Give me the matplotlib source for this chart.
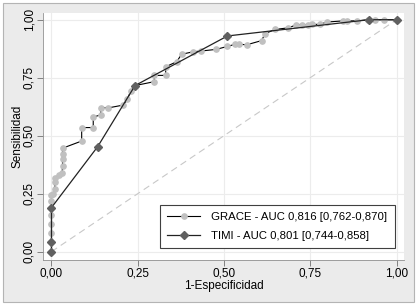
import matplotlib
matplotlib.use("Agg")
import matplotlib.pyplot as plt
from matplotlib.patches import Rectangle

plt.rcParams['font.family'] = ['Liberation Sans', 'DejaVu Sans']

# GRACE ROC curve points (1-specificity, sensitivity)
grace_x = [0, 0, 0, 0, 0, 0, 0, 0,
           0.005, 0.01, 0.01, 0.01, 0.022, 0.031, 0.032, 0.032, 0.032, 0.032,
           0.0875, 0.0875, 0.121, 0.121, 0.143, 0.143, 0.165, 0.208, 0.22, 0.23,
           0.242, 0.298, 0.298, 0.331, 0.331, 0.363, 0.377, 0.411, 0.433, 0.477,
           0.51, 0.532, 0.544, 0.566, 0.609, 0.619, 0.648, 0.686, 0.71, 0.725,
           0.744, 0.754, 0.778, 0.798, 0.846, 0.856, 0.885, 0.918, 0.938, 0.965, 1.0]
grace_y = [0, 0.04, 0.08, 0.12, 0.16, 0.19, 0.22, 0.245,
           0.25, 0.27, 0.30, 0.318, 0.33, 0.34, 0.37, 0.40, 0.42, 0.446,
           0.477, 0.535, 0.535, 0.58, 0.59, 0.62, 0.62, 0.632, 0.657, 0.694,
           0.716, 0.733, 0.76, 0.76, 0.797, 0.819, 0.851, 0.862, 0.865, 0.872,
           0.885, 0.894, 0.894, 0.892, 0.91, 0.94, 0.958, 0.965, 0.978, 0.978,
           0.977, 0.98, 0.98, 0.99, 0.995, 0.995, 0.995, 1.0, 1.0, 1.0, 1.0]

# TIMI ROC curve points
timi_x = [0, 0, 0, 0.134, 0.242, 0.51, 0.92, 1.0]
timi_y = [0, 0.04, 0.19, 0.453, 0.716, 0.93, 1.0, 1.0]

grace_label = "GRACE - AUC 0,816 [0,762-0,870]"
timi_label = "TIMI - AUC 0,801 [0,744-0,858]"
ticks = [0, 0.25, 0.5, 0.75, 1.0]
tick_labels = ["0,00", "0,25", "0,50", "0,75", "1,00"]

fig = plt.figure(figsize=(4.16, 3.04), dpi=100)
fig.patch.set_facecolor('white')
fig.patches.append(Rectangle((2.5 / 416, 2.5 / 304), 411 / 416, 299 / 304,
                             transform=fig.transFigure, facecolor='#ebebeb',
                             edgecolor='#b4b4b4', linewidth=0.8, zorder=-10))

ax = fig.add_axes([43 / 416, 44 / 304, 361 / 416, 247 / 304])
ax.set_zorder(5)
ax.set_facecolor('white')
ax.set_xlim(-0.0246, 1.0217)
ax.set_ylim(-0.036, 1.029)

ax.plot([0, 1], [0, 1], color='#c8c8c8', linestyle=(0, (6, 4)), linewidth=0.8, zorder=1)
ax.plot(grace_x, grace_y, color='black', linewidth=0.8, marker='o', markersize=3.8,
        markerfacecolor='#c0c0c0', markeredgecolor='#c0c0c0', label=grace_label, zorder=3)
ax.plot(timi_x, timi_y, color='#222222', linewidth=0.9, marker='D', markersize=4.2,
        markerfacecolor='#606060', markeredgecolor='#606060', label=timi_label, zorder=4)

ax.set_xticks(ticks)
ax.set_xticklabels(tick_labels, fontsize=8.5)
ax.set_yticks(ticks)
ax.set_yticklabels(tick_labels, fontsize=8.5, rotation=90, va='center')
ax.tick_params(direction='out', length=4, width=0.6, color='#707070', pad=1.5)
ax.grid(True, color='#ececec', linewidth=0.8)
ax.set_axisbelow(True)

for s in ['top', 'right']:
    ax.spines[s].set_visible(False)
for s in ['left', 'bottom']:
    ax.spines[s].set_color('#909090')
    ax.spines[s].set_linewidth(0.6)

ax.set_xlabel("1-Especificidad", fontsize=8.5)
ax.set_ylabel("Sensibilidad", fontsize=8.5)
ax.xaxis.set_label_coords(0.5, -0.079)
ax.yaxis.set_label_coords(-0.053, 0.5)

leg = ax.legend(loc='lower left', bbox_to_anchor=(0.324, 0.047, 0.651, 0.0),
                mode='expand', borderaxespad=0, fontsize=8.2,
                frameon=True, fancybox=False, handlelength=2.9, borderpad=0.65,
                labelspacing=0.75, handletextpad=0.9)
leg.get_frame().set_edgecolor('#404040')
leg.get_frame().set_linewidth(0.8)
leg.get_frame().set_alpha(1)

fig.savefig("out.png", dpi=100, facecolor=fig.get_facecolor())
